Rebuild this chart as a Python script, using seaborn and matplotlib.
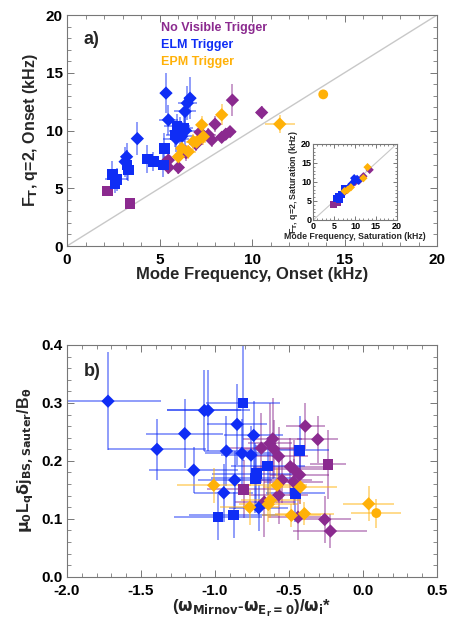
import numpy as np
import pandas as pd
import matplotlib
matplotlib.use("Agg")
import matplotlib.pyplot as plt
from matplotlib.ticker import MultipleLocator
import seaborn as sns

# ---------------- data: panel a (onset) ----------------
# No Visible Trigger (purple)
nv_f = [2.2, 3.4, 5.48, 5.48, 6.02, 6.43, 6.97, 7.19, 7.64, 7.82, 8.0, 8.36, 8.58, 8.81, 8.94, 10.52, 5.3]
nv_F = [4.75, 3.7, 7.44, 6.8, 6.8, 8.08, 8.83, 9.85, 9.62, 9.18, 10.55, 9.41, 9.68, 9.9, 12.63, 11.56, 7.2]
nv_fe = [0.15, 0.15, 0.3, 0.3, 0.3, 0.35, 0.4, 0.3, 0.4, 0.3, 0.3, 0.3, 0.3, 0.3, 0.2, 0.3, 0.3]
nv_Fe = [0.2, 0.2, 0.7, 0.6, 0.6, 0.7, 0.6, 0.8, 0.6, 0.6, 0.7, 0.5, 0.5, 0.5, 1.4, 0.6, 0.6]
nv_m = ['s', 's', 'D', 'D', 'D', 'D', 'D', 'D', 'D', 'D', 'D', 'D', 'D', 'D', 'D', 'D', 'D']

# ELM Trigger (blue)
elm_f = [5.35, 6.65, 6.5, 6.38, 5.48, 3.8, 3.22, 3.14, 6.2, 6.4, 5.9,
         5.95, 6.13, 6.3, 5.85, 5.26, 4.34, 4.67, 5.2, 3.31, 3.25, 2.45, 2.68, 2.6]
elm_F = [13.24, 12.8, 12.37, 11.65, 10.92, 9.3, 7.73, 7.3, 9.5, 10.0, 9.3,
         10.4, 10.0, 10.2, 9.6, 8.46, 7.53, 7.3, 7.0, 6.57, 7.0, 6.2, 5.76, 5.42]
elm_fe = [0.2, 0.3, 0.5, 0.6, 0.5, 0.2, 0.3, 0.3, 0.6, 0.6, 0.7,
          0.7, 0.6, 0.5, 0.5, 0.3, 0.3, 0.3, 0.3, 0.2, 0.2, 0.3, 0.6, 0.3]
elm_Fe = [1.7, 1.8, 1.5, 1.2, 1.3, 1.45, 1.2, 1.3, 1.2, 1.3, 1.2,
          1.0, 1.2, 1.2, 1.0, 1.3, 1.2, 0.8, 1.0, 0.9, 1.3, 1.2, 1.0, 0.8]
elm_m = ['D'] * 11 + ['s'] * 13

# EPM Trigger (orange)
epm_f = [8.36, 7.28, 7.37, 6.83, 6.2, 6.02, 6.56, 7.0, 11.5, 13.85]
epm_F = [11.36, 10.49, 9.47, 9.04, 8.46, 7.73, 8.17, 9.0, 10.56, 13.13]
epm_fe = [0.3, 0.3, 0.5, 0.4, 0.3, 0.3, 0.4, 0.5, 0.8, 0.25]
epm_Fe = [0.9, 0.8, 0.7, 0.7, 0.6, 0.6, 0.6, 0.6, 0.8, 0.35]
epm_m = ['D'] * 9 + ['o']

# ---------------- data: inset (saturation) ----------------
in_nv_f = [4.9, 5.9, 6.6, 7.2, 8.0, 9.0, 10.0, 11.0, 13.5, 12.0]
in_nv_F = [4.1, 4.6, 6.6, 7.1, 8.0, 9.1, 10.0, 10.4, 13.2, 11.5]
in_nv_m = ['s', 's', 'D', 'D', 'D', 'D', 'D', 'D', 'D', 'D']
in_elm_f = [5.5, 6.0, 6.8, 7.5, 8.5, 9.2, 10.0, 10.5, 9.8, 10.8, 6.3]
in_elm_F = [5.6, 6.2, 6.6, 8.2, 8.6, 9.5, 10.5, 10.8, 11.0, 10.3, 5.4]
in_elm_m = ['s', 's', 's', 's', 'D', 'D', 'D', 'D', 'D', 'D', 's']
in_epm_f = [13.0, 12.0, 9.0, 7.5, 8.2]
in_epm_F = [13.9, 11.0, 8.6, 7.6, 7.9]
in_epm_m = ['D', 'D', 'D', 'D', 'D']

# ---------------- data: panel b ----------------
b_nv_x = [-0.39, -0.306, -0.61, -0.63, -0.687, -0.604, -0.57, -0.491, -0.469, -0.428,
          -0.469, -0.547, -0.57, -0.667, -0.439, -0.259, -0.22, -0.236, -0.806]
b_nv_y = [0.26, 0.237, 0.238, 0.23, 0.222, 0.221, 0.208, 0.19, 0.186, 0.176,
          0.164, 0.167, 0.141, 0.129, 0.103, 0.099, 0.079, 0.194, 0.151]
b_nv_xe = [0.13, 0.14, 0.2, 0.15, 0.25, 0.2, 0.2, 0.25, 0.2, 0.2,
           0.2, 0.2, 0.2, 0.2, 0.2, 0.18, 0.25, 0.12, 0.25]
b_nv_ye = [0.04, 0.04, 0.07, 0.07, 0.06, 0.05, 0.05, 0.05, 0.05, 0.05,
           0.04, 0.04, 0.05, 0.06, 0.04, 0.04, 0.03, 0.06, 0.05]
b_nv_m = ['D'] * 17 + ['s', 's']

b_elm_x = [-1.723, -1.392, -1.205, -1.144, -1.072, -1.047, -0.851, -0.923, -0.818, -0.757,
           -0.739, -0.867, -0.941, -0.705,
           -0.811, -0.98, -0.874, -0.727, -0.72, -0.644, -0.428, -0.457]
b_elm_y = [0.303, 0.220, 0.247, 0.184, 0.287, 0.287, 0.263, 0.217, 0.213, 0.21,
           0.244, 0.167, 0.145, 0.119,
           0.3, 0.103, 0.107, 0.17, 0.178, 0.191, 0.218, 0.144]
b_elm_xe = [0.36, 0.33, 0.26, 0.3, 0.25, 0.28, 0.2, 0.15, 0.25, 0.2,
            0.2, 0.25, 0.2, 0.2,
            0.25, 0.3, 0.3, 0.3, 0.3, 0.25, 0.2, 0.2]
b_elm_ye = [0.085, 0.053, 0.06, 0.04, 0.07, 0.07, 0.07, 0.06, 0.06, 0.05,
            0.06, 0.05, 0.05, 0.04,
            0.1, 0.04, 0.04, 0.06, 0.05, 0.05, 0.06, 0.05]
b_elm_m = ['D'] * 14 + ['s'] * 8

b_epm_x = [-1.009, -0.766, -0.626, -0.64, -0.581, -0.423, -0.484, -0.396, 0.038, 0.09]
b_epm_y = [0.158, 0.12, 0.132, 0.125, 0.158, 0.155, 0.106, 0.109, 0.126, 0.11]
b_epm_xe = [0.25, 0.2, 0.2, 0.2, 0.2, 0.25, 0.2, 0.2, 0.17, 0.17]
b_epm_ye = [0.03, 0.03, 0.03, 0.03, 0.03, 0.03, 0.02, 0.02, 0.03, 0.025]
b_epm_m = ['D'] * 9 + ['o']

groups = ["No Visible Trigger", "ELM Trigger", "EPM Trigger"]
colors = {"No Visible Trigger": "#8B2A8F", "ELM Trigger": "#0F2DF5", "EPM Trigger": "#FFB108"}


def frame(sets, xname, yname):
    rows = []
    for g, xs, ys, xe, ye, ms in sets:
        for i in range(len(xs)):
            rows.append({xname: xs[i], yname: ys[i], "xe": xe[i] if xe else 0,
                         "ye": ye[i] if ye else 0, "group": g, "shape": ms[i]})
    return pd.DataFrame(rows)


df_a = frame([(groups[0], nv_f, nv_F, nv_fe, nv_Fe, nv_m),
              (groups[1], elm_f, elm_F, elm_fe, elm_Fe, elm_m),
              (groups[2], epm_f, epm_F, epm_fe, epm_Fe, epm_m)], "f", "F")
df_in = frame([(groups[0], in_nv_f, in_nv_F, None, None, in_nv_m),
               (groups[1], in_elm_f, in_elm_F, None, None, in_elm_m),
               (groups[2], in_epm_f, in_epm_F, None, None, in_epm_m)], "f", "F")
df_b = frame([(groups[0], b_nv_x, b_nv_y, b_nv_xe, b_nv_ye, b_nv_m),
              (groups[1], b_elm_x, b_elm_y, b_elm_xe, b_elm_ye, b_elm_m),
              (groups[2], b_epm_x, b_epm_y, b_epm_xe, b_epm_ye, b_epm_m)], "x", "y")

sns.set_style("ticks")
plt.rcParams['font.family'] = ['Liberation Sans', 'DejaVu Sans']
plt.rcParams['font.weight'] = 'bold'
plt.rcParams['mathtext.default'] = 'bf'

fig = plt.figure(figsize=(4.51, 6.26), dpi=100)
ax_a = fig.add_axes([0.1486, 0.607, 0.8204, 0.369])
ax_b = fig.add_axes([0.1486, 0.0785, 0.8204, 0.3705])
ax_in = fig.add_axes([0.6947, 0.6486, 0.185, 0.1214])

markers = {'D': 'D', 's': 's', 'o': 'o'}
order = groups


def draw(ax, df, xname, yname, sizes, errors=True):
    if errors:
        for g in order:
            d = df[df.group == g]
            ax.errorbar(d[xname], d[yname], xerr=d["xe"], yerr=d["ye"], fmt='none',
                        ecolor=colors[g], alpha=0.5, elinewidth=1.3, capsize=0, zorder=2)
    for g in order:
        d = df[df.group == g]
        sns.scatterplot(data=d, x=xname, y=yname, hue="group", style="shape", size="shape",
                        palette=colors, markers=markers, sizes=sizes, linewidth=0,
                        legend=False, ax=ax, zorder=3)


def style(ax, tick_size, major_len=5, minor_len=3, xpad=5, ypad=3):
    for s in ax.spines.values():
        s.set_color("#777777")
        s.set_linewidth(0.8)
    ax.tick_params(which='both', direction='in', top=True, right=True, colors="#777777",
                   labelcolor="black", labelsize=tick_size)
    ax.tick_params(which='major', length=major_len, width=0.7)
    ax.tick_params(which='minor', length=minor_len, width=0.6)
    ax.tick_params(axis='x', which='major', pad=xpad)
    ax.tick_params(axis='y', which='major', pad=ypad)
    for lab in ax.get_xticklabels() + ax.get_yticklabels():
        lab.set_fontweight('bold')


# ---------- panel a ----------
ax_a.plot([0, 20], [0, 20], color="#c8c8c8", lw=1.0, zorder=1)
draw(ax_a, df_a, "f", "F", {'D': 46, 's': 58, 'o': 50})
ax_a.set_xlim(0, 20)
ax_a.set_ylim(0, 20)
ax_a.xaxis.set_major_locator(MultipleLocator(5))
ax_a.xaxis.set_minor_locator(MultipleLocator(1))
ax_a.yaxis.set_major_locator(MultipleLocator(5))
ax_a.yaxis.set_minor_locator(MultipleLocator(1))
style(ax_a, 11)
ax_a.set_xticks([0, 5, 10, 15, 20])
ax_a.set_xticklabels(["0", "5", "10", "15", "20"], fontweight='bold', fontsize=11)
ax_a.set_xlabel("Mode Frequency, Onset (kHz)", fontsize=12, fontweight='bold', labelpad=0)
ax_a.set_ylabel(r"F$_{\rm T}$, q=2, Onset (kHz)", fontsize=11.5, fontweight='bold', labelpad=4)
ax_a.text(0.045, 0.895, "a)", transform=ax_a.transAxes, fontsize=13, fontweight='bold', va='center')
for i, g in enumerate(groups):
    ax_a.text(0.255, 0.945 - i * 0.075, g, transform=ax_a.transAxes, fontsize=9,
              fontweight='bold', color=colors[g], va='center')

# ---------- inset ----------
ax_in.plot([0, 20], [0, 20], color="#c8c8c8", lw=0.8, zorder=1)
draw(ax_in, df_in, "f", "F", {'D': 18, 's': 26, 'o': 18}, errors=False)
ax_in.set_xlim(0, 20)
ax_in.set_ylim(0, 20)
ax_in.xaxis.set_major_locator(MultipleLocator(5))
ax_in.xaxis.set_minor_locator(MultipleLocator(1))
ax_in.yaxis.set_major_locator(MultipleLocator(5))
ax_in.yaxis.set_minor_locator(MultipleLocator(1))
style(ax_in, 6.5, major_len=3, minor_len=1.5, xpad=1.5, ypad=1.5)
ax_in.set_xlabel("Mode Frequency, Saturation (kHz)", fontsize=6.3, fontweight='bold', labelpad=0.5)
ax_in.set_ylabel(r"F$_{\rm T}$, q=2, Saturation (kHz)", fontsize=6.3, fontweight='bold', labelpad=1)

# ---------- panel b ----------
draw(ax_b, df_b, "x", "y", {'D': 46, 's': 58, 'o': 50})
ax_b.set_xlim(-2.0, 0.5)
ax_b.set_ylim(0.0, 0.4)
ax_b.xaxis.set_major_locator(MultipleLocator(0.5))
ax_b.xaxis.set_minor_locator(MultipleLocator(0.1))
ax_b.yaxis.set_major_locator(MultipleLocator(0.1))
ax_b.yaxis.set_minor_locator(MultipleLocator(0.02))
ax_b.xaxis.set_major_formatter(matplotlib.ticker.FormatStrFormatter('%.1f'))
ax_b.yaxis.set_major_formatter(matplotlib.ticker.FormatStrFormatter('%.1f'))
style(ax_b, 11)
ax_b.set_xlabel(r"($\omega_{\rm Mirnov}$-$\omega_{{\rm E}_{\rm r}{\rm =0}}$)/$\omega_{\rm i}$*",
                fontsize=12, fontweight='bold', labelpad=0)
ax_b.set_ylabel(r"$\mu_0$L$_{\rm q}$$\delta$j$_{\rm BS,Sauter}$/B$_{\theta}$",
                fontsize=11.5, fontweight='bold', labelpad=4)
ax_b.text(0.045, 0.885, "b)", transform=ax_b.transAxes, fontsize=13, fontweight='bold', va='center')

fig.savefig("out.png", dpi=100)
